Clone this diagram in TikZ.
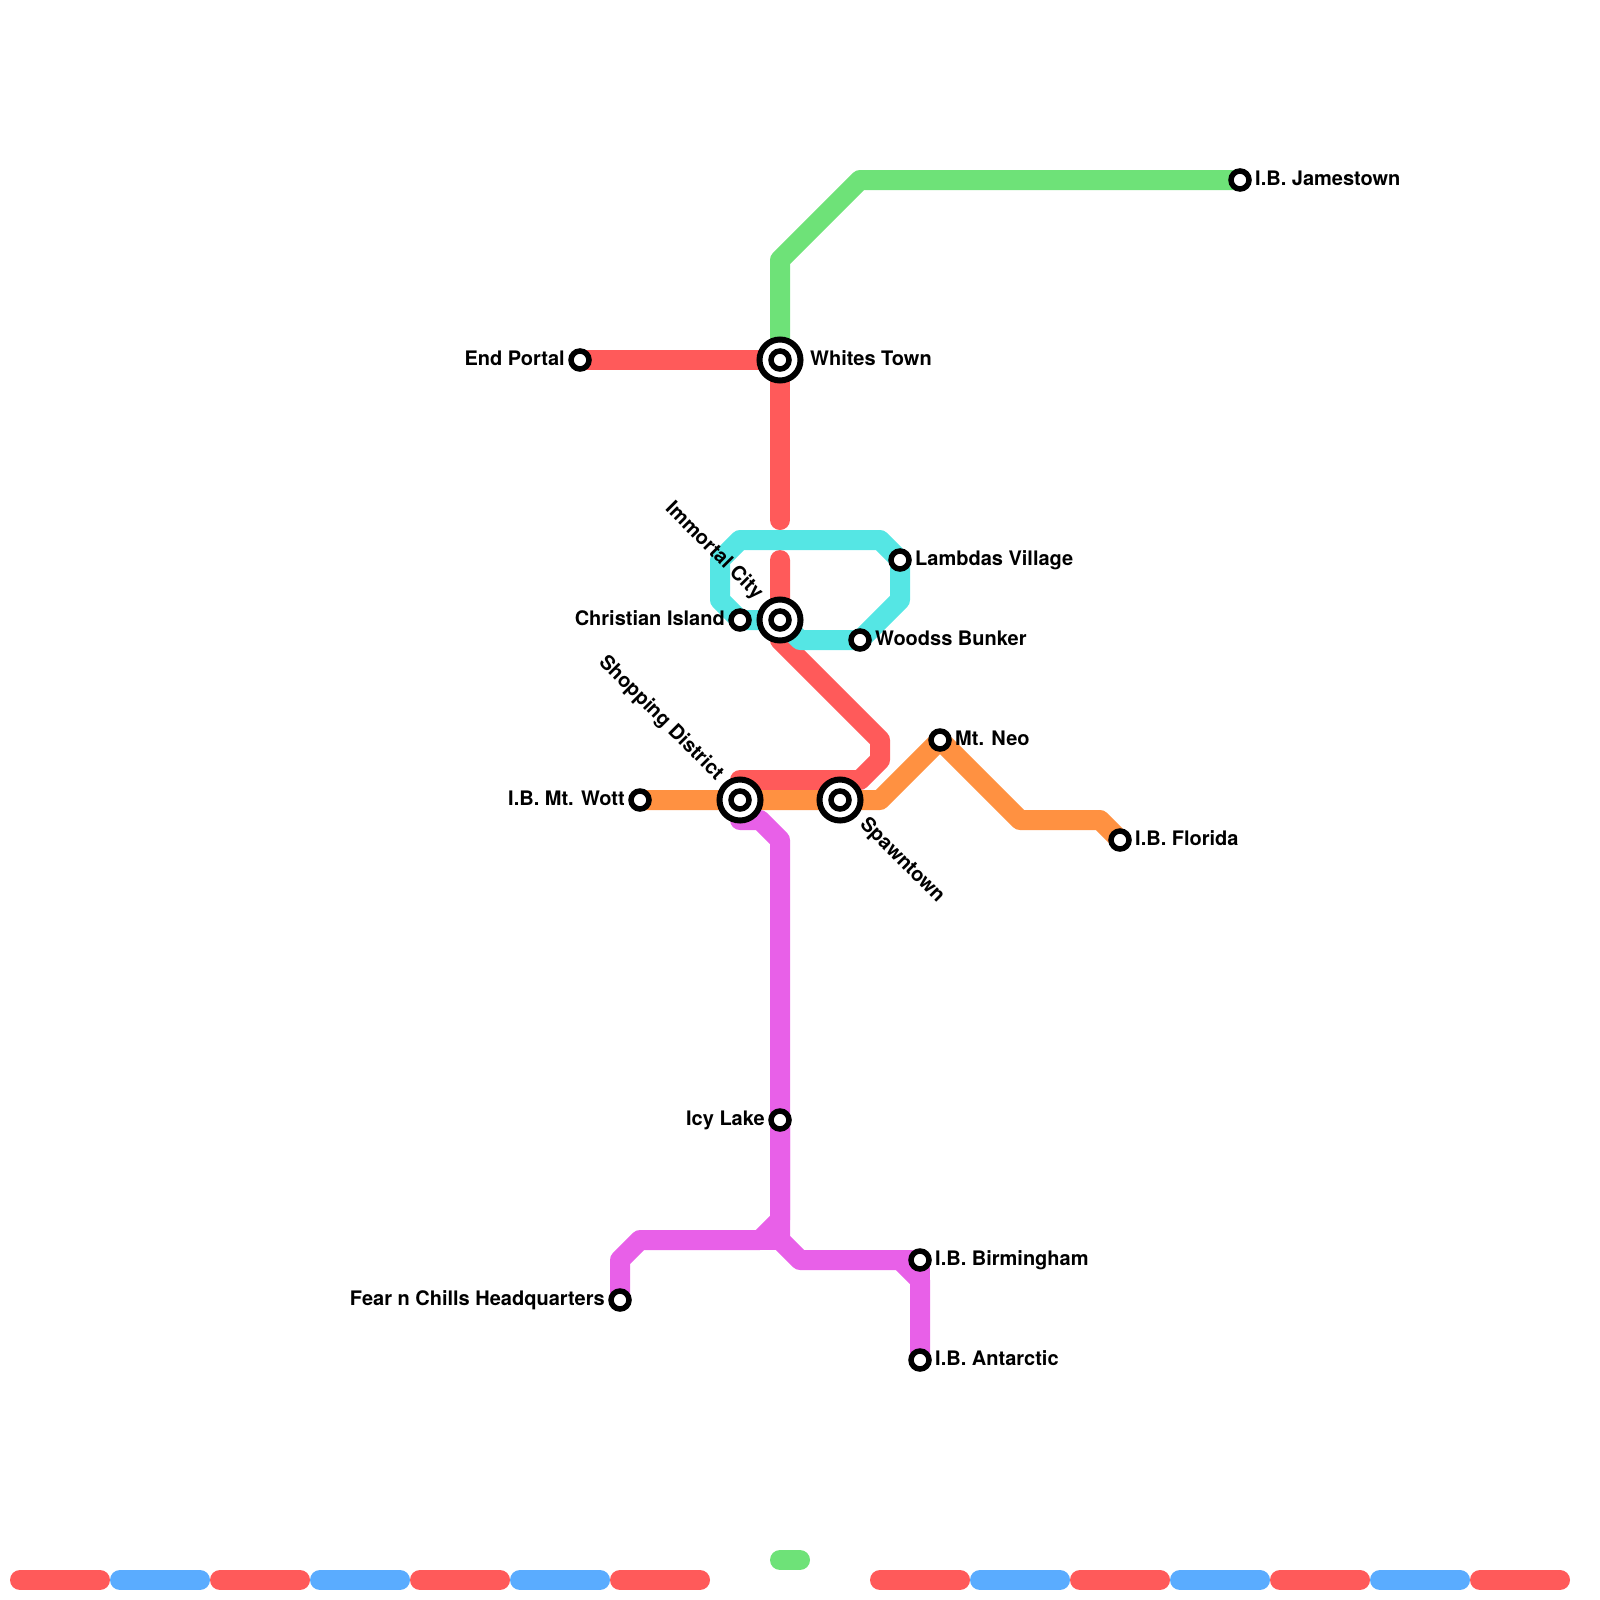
\documentclass[tikz,border=0pt]{standalone}
\usepackage{fontspec}
\setmainfont{TeX Gyre Heros}
\usetikzlibrary{backgrounds}
\definecolor{lred}{RGB}{255,90,90}
\definecolor{lgreen}{RGB}{110,226,120}
\definecolor{lcyan}{RGB}{85,230,228}
\definecolor{lorange}{RGB}{255,145,65}
\definecolor{lmagenta}{RGB}{232,96,232}
\definecolor{lblue}{RGB}{90,172,255}
\tikzset{
  x=1pt,y=-1pt,
  metro/.style={line width=20pt,line join=round,line cap=round},
  smallst/.style={circle,draw=black,fill=white,line width=5.5pt,minimum size=18pt,inner sep=0pt},
  bigst/.style={circle,draw=black,fill=white,line width=6pt,minimum size=41pt,inner sep=0pt},
  lab/.style={font=\bfseries\fontsize{20}{22}\selectfont,text=black,inner sep=0pt},
  labr/.style={lab,anchor=base west},
  labl/.style={lab,anchor=base east},
}
\begin{document}
\begin{tikzpicture}
\useasboundingbox (0,0) rectangle (1600,1600);
% stations
\node[bigst] (whites) at (780,360) {};
\node[smallst] (whitesi) at (780,360) {};
\node[bigst] (immortal) at (780,620) {};
\node[smallst] (immortali) at (780,620) {};
\node[bigst] (shopping) at (740,800) {};
\node[smallst] (shoppingi) at (740,800) {};
\node[bigst] (spawn) at (840,800) {};
\node[smallst] (spawni) at (840,800) {};
\node[smallst] (jamestown) at (1240,180) {};
\node[smallst] (endportal) at (580,360) {};
\node[smallst] (lambdas) at (900,560) {};
\node[smallst] (christian) at (740,620) {};
\node[smallst] (woodss) at (860,640) {};
\node[smallst] (mtneo) at (940,740) {};
\node[smallst] (mtwott) at (640,800) {};
\node[smallst] (florida) at (1120,840) {};
\node[smallst] (icy) at (780,1120) {};
\node[smallst] (birmingham) at (920,1260) {};
\node[smallst] (antarctic) at (920,1360) {};
\node[smallst] (fear) at (620,1300) {};
% tunnel ends
\coordinate (tunA) at (780,520);
\coordinate (tunB) at (780,560);
% lines
\begin{scope}[on background layer]
\draw[metro,lgreen] (whites.center) -- (780,260) -- (860,180) -- (jamestown.center);
\draw[metro,lred] (endportal.center) -- (whites.center) -- (tunA);
\draw[metro,lred] (tunB) -- (immortal.center) -- (780,640) -- (880,740) -- (880,760) -- (860,780) -- (740,780) -- (shopping.center);
\draw[metro,lcyan] (immortal.center) -- (christian.center) -- (720,600) -- (720,560) -- (740,540) -- (880,540) -- (lambdas.center) -- (900,600) -- (woodss.center) -- (800,640) -- (immortal.center);
\draw[metro,lorange] (mtwott.center) -- (880,800) -- (mtneo.center) -- (1020,820) -- (1100,820) -- (florida.center);
\draw[metro,lmagenta] (shopping.center) -- (740,820) -- (760,820) -- (780,840) -- (icy.center) -- (780,1220) -- (760,1240) -- (640,1240) -- (620,1260) -- (fear.center);
\draw[metro,lmagenta] (icy.center) -- (780,1240) -- (800,1260) -- (birmingham.center);
\draw[metro,lmagenta,line cap=butt] (760,1240) -- (780,1240);
\draw[metro,lmagenta] (900,1260) -- (920,1280) -- (antarctic.center);
\draw[metro,lmagenta] (birmingham.center) -- (antarctic.center);
% legend strip
\draw[metro,lgreen] (780,1560) -- (800,1560);
\foreach \a/\b/\c in {20/100/lred,120/200/lblue,220/300/lred,320/400/lblue,420/500/lred,520/600/lblue,620/700/lred,880/960/lred,980/1060/lblue,1080/1160/lred,1180/1260/lblue,1280/1360/lred,1380/1460/lblue,1480/1560/lred}
  \draw[metro,\c] (\a,1580) -- (\b,1580);
\end{scope}
% labels
\node[labr] (tWhites) at (810,365) {Whites Town};
\node[labr] (tJames) at (1255,185) {I.B. Jamestown};
\node[labl] (tEnd) at (565,365) {End Portal};
\node[labr] (tLamb) at (915,565) {Lambdas Village};
\node[labl] (tChr) at (725,625) {Christian Island};
\node[labr] (tWood) at (875,645) {Woodss Bunker};
\node[labr] (tNeo) at (955,745) {Mt. Neo};
\node[labl] (tWott) at (625,805) {I.B. Mt. Wott};
\node[labr] (tFlo) at (1135,845) {I.B. Florida};
\node[labl] (tIcy) at (765,1125) {Icy Lake};
\node[labr] (tBir) at (935,1265) {I.B. Birmingham};
\node[labr] (tAnt) at (935,1365) {I.B. Antarctic};
\node[labl] (tFear) at (605,1305) {Fear n Chills Headquarters};
\node[labl,rotate=-45] (tImm) at (755.5,600.5) {Immortal City};
\node[labl,rotate=-45] (tShop) at (716,781) {Shopping District};
\node[labr,rotate=-45] (tSpawn) at (859,825) {Spawntown};
\end{tikzpicture}
\end{document}
